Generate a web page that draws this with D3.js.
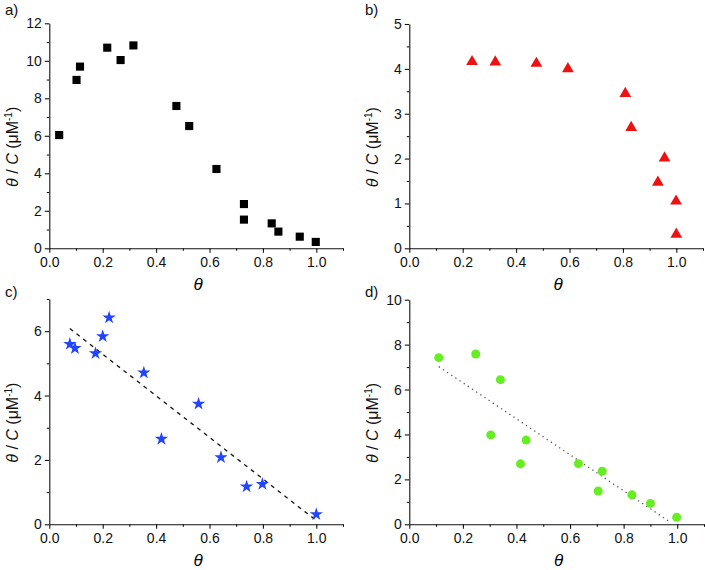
<!DOCTYPE html>
<html><head><meta charset="utf-8">
<script src="https://cdn.jsdelivr.net/npm/d3@7"></script>
<style>body{margin:0;background:#fff}svg{display:block}text{font-family:"Liberation Sans",Arial,sans-serif}</style>
</head><body>
<svg id="c" width="705" height="570"></svg>
<script>
// Panel a data
const thetaA = [0.037,0.102,0.115,0.217,0.267,0.315,0.476,0.524,0.626,0.729,0.729,0.833,0.858,0.938,0.998];
const valA   = [6.04,8.98,9.69,10.70,10.04,10.82,7.59,6.52,4.23,2.36,1.53,1.33,0.89,0.62,0.34];
// Panel b data
const thetaB = [0.235,0.322,0.476,0.594,0.809,0.831,0.956,0.931,0.999,1.0];
const valB   = [4.16,4.15,4.12,4.00,3.45,2.69,2.01,1.47,1.05,0.31];
// Panel c data
const thetaC = [0.077,0.096,0.173,0.200,0.224,0.354,0.420,0.559,0.643,0.739,0.798,1.0];
const valC   = [5.60,5.47,5.31,5.84,6.42,4.71,2.65,3.74,2.08,1.17,1.25,0.31];
const fitC   = [[0.077,6.08],[0.998,0.13]];
// Panel d data
const thetaD = [0.110,0.248,0.340,0.304,0.436,0.415,0.631,0.720,0.705,0.831,0.900,0.998];
const valD   = [7.42,7.58,6.44,3.98,3.75,2.69,2.70,2.36,1.48,1.31,0.93,0.31];
const fitD   = [[0.110,7.02],[0.975,0.09]];
// Tick values
const xTicks = [0,0.2,0.4,0.6,0.8,1.0];
const xMinor = [0.1,0.3,0.5,0.7,0.9,1.1];
const yTicksA = [0,2,4,6,8,10,12], yMinorA = [1,3,5,7,9,11];
const yTicksB = [0,1,2,3,4,5], yMinorB = [0.5,1.5,2.5,3.5,4.5];
const yTicksC = [0,2,4,6], yMinorC = [1,3,5,7];
const yTicksD = [0,2,4,6,8,10], yMinorD = [1,3,5,7,9];

const svg = d3.select("#c");

function panel(o){
  const g = svg.append("g");
  const x = d3.scaleLinear().domain([0,1.1]).range([o.left, o.right]);
  const y = d3.scaleLinear().domain([0,o.ymax]).range([o.bottom, o.top]);
  // minor ticks
  g.append("g").attr("transform",`translate(0,${o.bottom})`)
    .call(d3.axisBottom(x).tickValues(xMinor).tickSize(2.5).tickFormat(""))
    .call(a=>a.select(".domain").remove());
  g.append("g").attr("transform",`translate(${o.left},0)`)
    .call(d3.axisLeft(y).tickValues(o.yMinor).tickSize(2.5).tickFormat(""))
    .call(a=>a.select(".domain").remove());
  const xa = g.append("g").attr("transform",`translate(0,${o.bottom})`)
    .call(d3.axisBottom(x).tickValues(xTicks).tickSize(4.5).tickSizeOuter(0).tickPadding(4).tickFormat(d3.format(".1f")));
  const ya = g.append("g").attr("transform",`translate(${o.left},0)`)
    .call(d3.axisLeft(y).tickValues(o.yTicks).tickSize(4.5).tickSizeOuter(0).tickPadding(3).tickFormat(d3.format("d")));
  [xa,ya].forEach(a=>{
    a.selectAll("text").style("font-size","14px").attr("fill","#111");
    a.selectAll("line,path").attr("stroke","#111").attr("stroke-width",1.1);
  });
  // x label
  g.append("text").attr("x",(o.left+o.right)/2 + 2).attr("y",o.bottom+42)
    .attr("text-anchor","middle").style("font-size","17px").style("font-style","italic").text("θ");
  // y label
  const yl = g.append("text")
    .attr("transform",`translate(${o.left-31},${(o.top+o.bottom)/2+11}) rotate(-90)`)
    .attr("text-anchor","middle").style("font-size","16px").attr("fill","#111");
  yl.append("tspan").style("font-style","italic").text("θ");
  yl.append("tspan").text(" / ");
  yl.append("tspan").style("font-style","italic").text("C");
  yl.append("tspan").text(" (μM");
  yl.append("tspan").attr("dy",-6).style("font-size","10px").text("-1");
  yl.append("tspan").attr("dy",6).text(")");
  // panel label
  g.append("text").attr("x",o.lx).attr("y",o.ly).style("font-size","15px").attr("fill","#111").text(o.label);
  // fit line
  if(o.fit){
    g.append("path").datum(o.fit)
      .attr("d",d3.line().x(d=>x(d[0])).y(d=>y(d[1])))
      .attr("fill","none").attr("stroke",o.fitColor).attr("stroke-width",o.fitWidth)
      .attr("stroke-dasharray",o.dash);
  }
  // points
  const sym = d3.symbol().type(o.symbol).size(o.size);
  g.append("g").selectAll("path").data(o.xs.map((t,i)=>[t,o.ys[i]])).join("path")
    .attr("transform",d=>`translate(${x(d[0])},${y(d[1])})`)
    .attr("d",sym).attr("fill",o.color);
}

panel({left:49.3,right:343,top:23.3,bottom:248.3,ymax:12,yTicks:yTicksA,yMinor:yMinorA,
  xs:thetaA,ys:valA,symbol:d3.symbolSquare,size:66,color:"#000",label:"a)",lx:5,ly:15});
panel({left:409.3,right:703,top:24,bottom:248.3,ymax:5,yTicks:yTicksB,yMinor:yMinorB,
  xs:thetaB,ys:valB,symbol:d3.symbolTriangle,size:60,color:"#ee1111",label:"b)",lx:365,ly:15});
panel({left:49.3,right:343,top:299,bottom:524.3,ymax:7,yTicks:yTicksC,yMinor:yMinorC,
  xs:thetaC,ys:valC,symbol:d3.symbolStar,size:55,color:"#2244ff",label:"c)",lx:5,ly:297,
  fit:fitC,fitColor:"#111",fitWidth:1.3,dash:"4,4.5"});
panel({left:409.3,right:704,top:299.7,bottom:524.3,ymax:10,yTicks:yTicksD,yMinor:yMinorD,
  xs:thetaD,ys:valD,symbol:d3.symbolCircle,size:64,color:"#66ee22",label:"d)",lx:365,ly:297,
  fit:fitD,fitColor:"#555",fitWidth:1.3,dash:"1.3,3.7"});
</script>
</body></html>
